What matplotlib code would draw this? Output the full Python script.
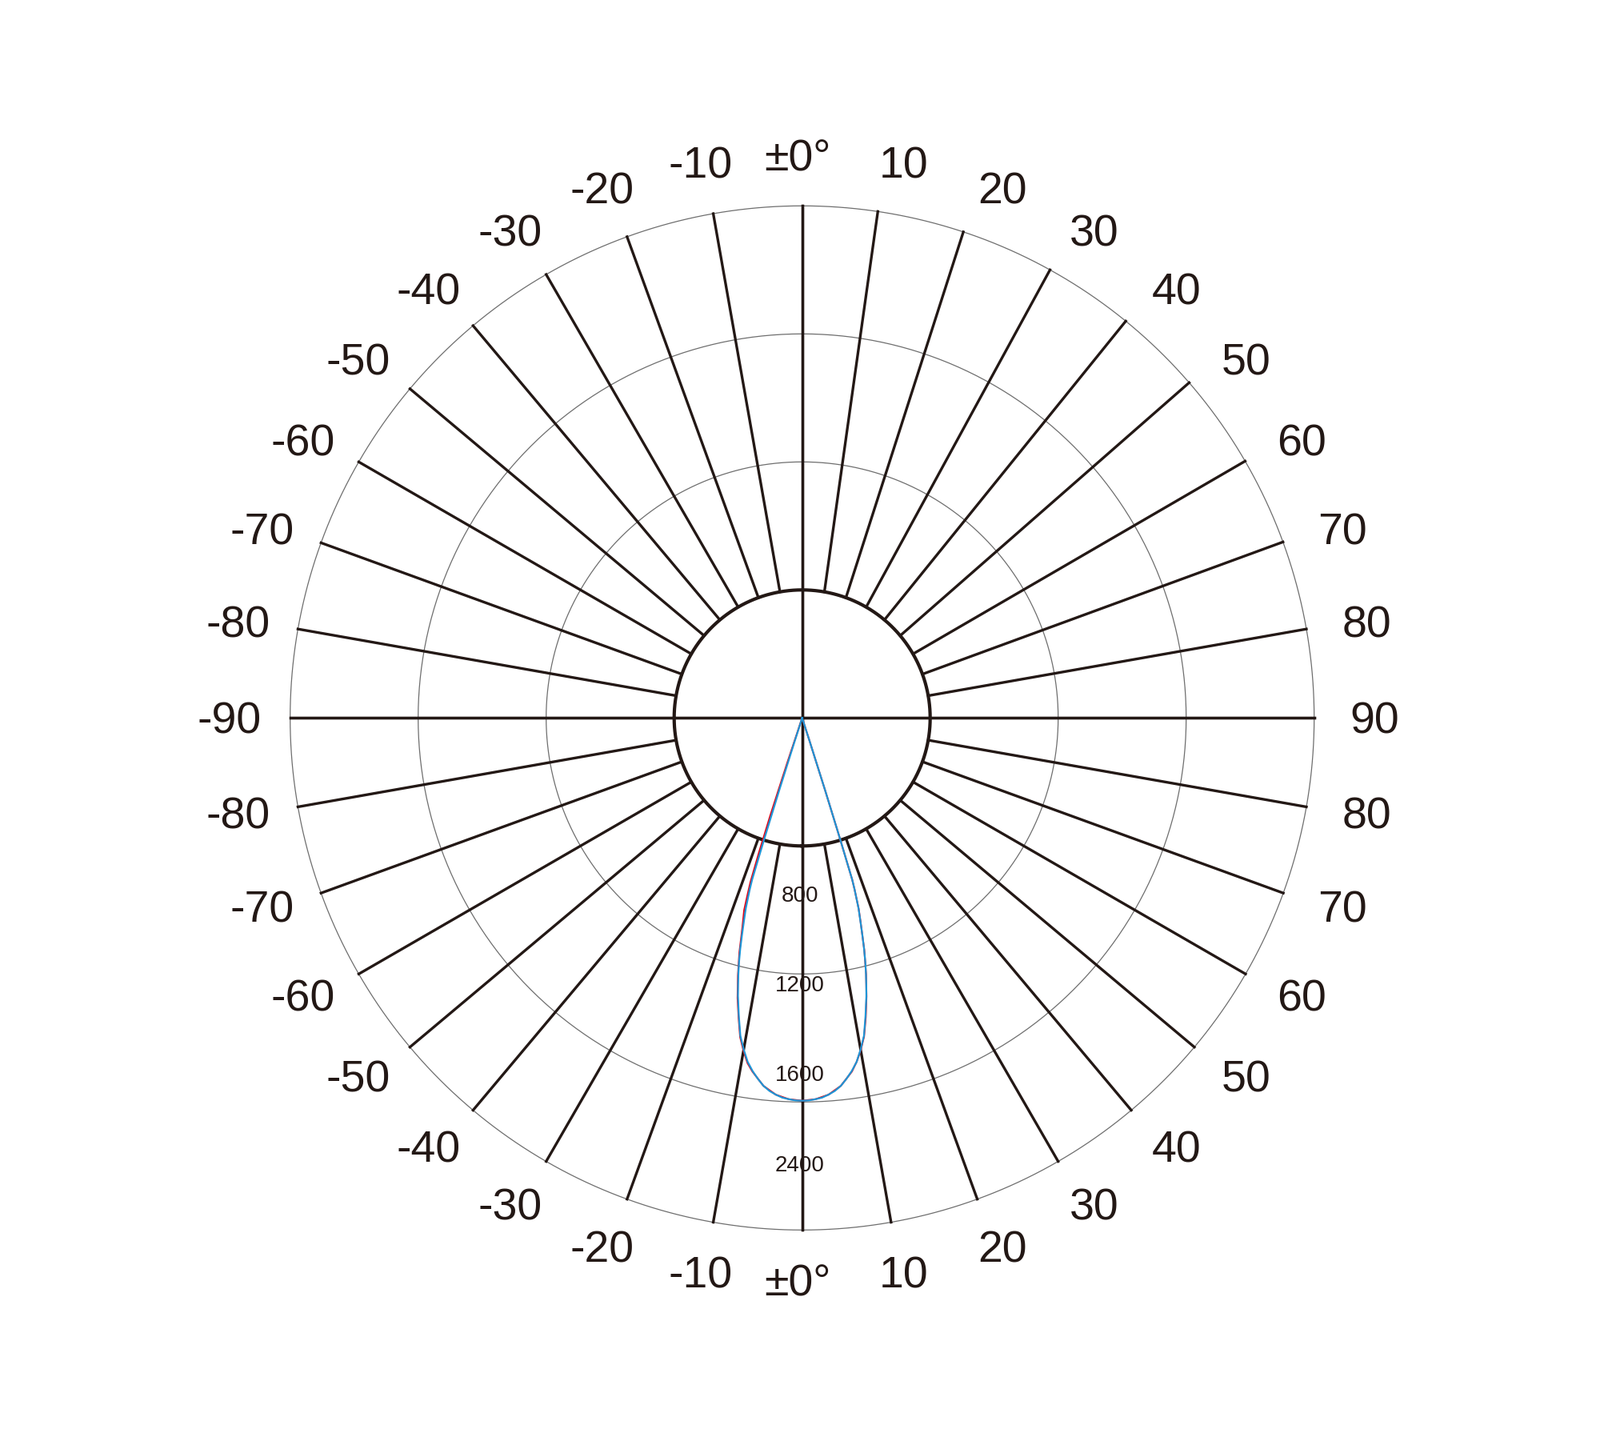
import numpy as np
import matplotlib
matplotlib.use("Agg")
import matplotlib.pyplot as plt
from matplotlib.transforms import ScaledTranslation

plt.rcParams['font.family'] = ['Liberation Sans', 'DejaVu Sans']

# Data
# blue curve, angle (deg from nadir, + = right) and relative intensity (ring units)
blue_ang = [-18.0, -17.8, -17.6, -17.4, -17.2, -17.0, -16.5, -16.0, -15.5, -15.0, -14.5, -14.0,
            -13.5, -13.0, -12.0, -11.0, -10.0, -9.0, -8.0, -7.0, -6.0, -5.0, -4.0, -3.0, -2.0,
            -1.0, 0.0, 1.0, 2.0, 3.0, 4.0, 5.0, 6.0, 7.0, 8.0, 9.0, 10.0, 11.0, 12.0, 13.0, 13.5,
            14.0, 14.5, 15.0, 15.5, 16.0, 16.5, 17.0, 17.2, 17.4, 17.6, 17.8, 18.0]
blue_r = [0.0, 0.2, 0.6, 0.98, 1.32, 1.40, 1.55, 1.65, 1.76, 1.87, 1.97, 2.06,
          2.145, 2.23, 2.38, 2.53, 2.63, 2.72, 2.785, 2.84, 2.89, 2.925, 2.95, 2.97, 2.98,
          2.988, 2.99, 2.988, 2.98, 2.97, 2.95, 2.925, 2.89, 2.84, 2.785, 2.72, 2.63, 2.53, 2.38,
          2.23, 2.145, 2.06, 1.97, 1.87, 1.76, 1.65, 1.55, 1.40, 1.32, 0.98, 0.6, 0.2, 0.0]
# red curve, slightly wider on the left side
red_ang = [-18.7, -18.4, -18.1, -17.8, -17.5, -17.2, -16.8, -16.0, -15.0, -14.0, -13.0, -12.0,
           -11.0, -10.0, -9.0, -8.0, -6.0, -4.0, -2.0, 0.0, 2.0, 4.0, 6.0, 8.0, 9.0, 10.0,
           11.0, 12.0, 13.0, 14.0, 15.0, 16.0, 16.5, 17.0, 17.2, 17.4, 17.6, 17.8, 18.05]
red_r = [0.0, 0.35, 0.8, 1.1, 1.34, 1.44, 1.57, 1.69, 1.895, 2.075, 2.245, 2.39,
         2.54, 2.64, 2.73, 2.79, 2.89, 2.95, 2.98, 2.99, 2.98, 2.95, 2.89, 2.79, 2.72, 2.635,
         2.535, 2.39, 2.235, 2.065, 1.875, 1.655, 1.555, 1.40, 1.32, 0.98, 0.6, 0.2, 0.0]

ring_vals = [1, 2, 3, 4]
ring_labels = ['800', '1200', '1600', '2400']
ring_label_r = [1.39, 2.09, 2.79, 3.50]

spoke_angles = list(range(-170, 190, 10))
# outer ends of the upper right spokes are drawn slightly off-radial in the original
skew_outer = {170: 171.5, 160: 161.65, 150: 151.05, 140: 140.8, 130: 130.9,
              120: 120.1, 110: 110.1}
bottom_labels = list(range(-90, 100, 10))   # lower half, 0 at nadir
top_labels = list(range(-80, 90, 10))       # upper half, 0 at zenith

ink = '#231815'

fig = plt.figure(figsize=(20, 17.96), dpi=100)
ax = fig.add_axes([0.13335, 0.09059, 0.736, 0.8196], projection='polar')
ax.set_theta_zero_location('S')
ax.set_theta_direction(1)
ax.set_ylim(0, 4.6)
ax.axis('off')


def straight(a1, r1, a2, r2, n=60):
    # straight segment between two polar points, returned as (theta, r)
    t1, t2 = np.deg2rad(a1), np.deg2rad(a2)
    x = np.linspace(r1 * np.cos(t1), r2 * np.cos(t2), n)
    y = np.linspace(r1 * np.sin(t1), r2 * np.sin(t2), n)
    return np.arctan2(y, x), np.hypot(x, y)


# rings
tt = np.linspace(0, 2 * np.pi, 721)
for rv in ring_vals:
    if rv == 1:
        ax.plot(tt, np.full_like(tt, rv), color=ink, lw=3.0, zorder=3)
    else:
        ax.plot(tt, np.full_like(tt, rv), color='#6e6e6e', lw=0.9, zorder=2)

# spokes
for a in spoke_angles:
    if a % 90 == 0:
        th, rr = straight(a, -4, a, 4)
        ax.plot(th, rr, color=ink, lw=2.4, zorder=3)
    else:
        th, rr = straight(a, 1, skew_outer.get(a, a), 4)
        ax.plot(th, rr, color=ink, lw=2.4, zorder=3)

# curves
ax.plot(np.deg2rad(red_ang), red_r, color='#e50012', lw=1.5, zorder=4)
ax.plot(np.deg2rad(blue_ang), blue_r, color='#1f95d6', lw=1.6, zorder=5)

# ring value labels
left3 = ax.transData + ScaledTranslation(-0.03, 0, fig.dpi_scale_trans)
for lab, rr in zip(ring_labels, ring_label_r):
    ax.text(0, rr, lab, fontsize=20, color=ink, ha='center', va='center', zorder=6,
            transform=left3)

# angle labels
labels = []
for v in bottom_labels:
    labels.append((v, '\u00b10\u00b0' if v == 0 else str(v)))
for v in top_labels:
    if v == 0:
        labels.append((180, '\u00b10\u00b0'))
    elif v > 0:
        labels.append((180 - v, str(v)))
    else:
        labels.append((-180 - v, str(v)))
for a, txt in labels:
    ar = np.deg2rad(a)
    # labels sit a little wider than the spoke angle, away from the vertical axis
    ap = ar + np.deg2rad(1.1) * np.sin(2 * ar)
    rl = (703 + 12.8 * abs(np.sin(ar))) / 160.0
    dx = -0.06 if txt.startswith('\u00b1') else 0.0
    tr = ax.transData + ScaledTranslation(dx, -0.05, fig.dpi_scale_trans)
    ax.text(ap, rl, txt, fontsize=40, color=ink, ha='center', va='center', transform=tr)

fig.savefig('out.png', dpi=100, facecolor='white')
